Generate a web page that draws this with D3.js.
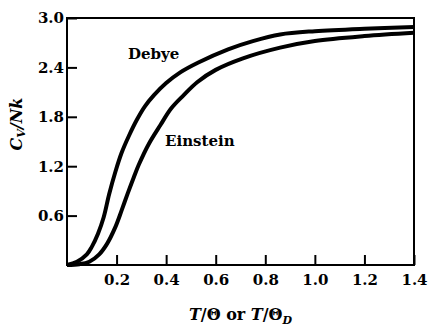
<!DOCTYPE html>
<html>
<head>
<meta charset="utf-8">
<script src="https://cdn.jsdelivr.net/npm/d3@7"></script>
<style>
  body { margin: 0; background: #fff; }
</style>
</head>
<body>
<div id="container"></div>
<script>
// values (T/theta, Cv/Nk)
const debyeT = [0, 0.04, 0.08, 0.10, 0.125, 0.148, 0.17, 0.195, 0.22, 0.25, 0.283, 0.315, 0.35, 0.40, 0.457, 0.53, 0.65, 0.75, 0.86, 1.00, 1.20, 1.40];
const debyeC = [0, 0.04, 0.13, 0.22, 0.38, 0.58, 0.86, 1.13, 1.36, 1.57, 1.77, 1.93, 2.06, 2.21, 2.34, 2.46, 2.62, 2.72, 2.80, 2.84, 2.87, 2.89];

const einsteinT = [0, 0.05, 0.09, 0.13, 0.162, 0.195, 0.22, 0.245, 0.27, 0.29, 0.33, 0.377, 0.42, 0.47, 0.525, 0.60, 0.71, 0.86, 1.00, 1.20, 1.40];
const einsteinC = [0, 0.01, 0.04, 0.13, 0.26, 0.46, 0.66, 0.87, 1.07, 1.22, 1.47, 1.70, 1.90, 2.06, 2.22, 2.37, 2.51, 2.64, 2.72, 2.78, 2.82];

const xTicks = [0.2, 0.4, 0.6, 0.8, 1.0, 1.2, 1.4];
const yTicks = [0.6, 1.2, 1.8, 2.4, 3.0];

const width = 431, height = 326;
const margin = { top: 18, right: 17, bottom: 61, left: 67 };
const serif = 'DejaVu Serif';

const svg = d3.select('#container').append('svg')
  .attr('width', width)
  .attr('height', height)
  .attr('font-family', serif)
  .style('font-family', serif);

const x = d3.scaleLinear().domain([0, 1.4]).range([margin.left, width - margin.right]);
const y = d3.scaleLinear().domain([0, 3.0]).range([height - margin.bottom, margin.top]);

function label(sel, size) {
  return sel.attr('font-family', serif).style('font-family', serif)
    .attr('font-weight', 'bold').style('font-weight', 'bold')
    .attr('font-size', size).style('font-size', size + 'px')
    .attr('fill', '#000');
}

// axes, ticks pointing inward
const xAxis = svg.append('g')
  .attr('transform', `translate(0,${y(0)})`)
  .call(d3.axisBottom(x).tickValues(xTicks).tickFormat(d3.format('.1f'))
    .tickSize(-10).tickSizeOuter(0).tickPadding(9));
const yAxis = svg.append('g')
  .attr('transform', `translate(${x(0)},0)`)
  .call(d3.axisLeft(y).tickValues(yTicks).tickFormat(d3.format('.1f'))
    .tickSize(-10).tickSizeOuter(0).tickPadding(3));

[xAxis, yAxis].forEach(g => {
  g.attr('font-family', serif).attr('font-size', 15);
  g.select('.domain').remove();
  g.selectAll('line').attr('stroke', '#000').attr('stroke-width', 2);
  label(g.selectAll('text'), 15);
});

// frame
svg.append('rect')
  .attr('x', x(0)).attr('y', y(3.0))
  .attr('width', x(1.4) - x(0)).attr('height', y(0) - y(3.0))
  .attr('fill', 'none').attr('stroke', '#000').attr('stroke-width', 2);

// curves
const line = d3.line()
  .x(d => x(d[0]))
  .y(d => y(d[1]))
  .curve(d3.curveCatmullRom.alpha(0.5));

[[debyeT, debyeC], [einsteinT, einsteinC]].forEach(([ts, cs]) => {
  svg.append('path')
    .datum(d3.zip(ts, cs))
    .attr('d', line)
    .attr('fill', 'none')
    .attr('stroke', '#000')
    .attr('stroke-width', 4);
});

// curve labels
label(svg.append('text').attr('x', 128).attr('y', 59), 15).text('Debye');
label(svg.append('text').attr('x', 165).attr('y', 146), 15).text('Einstein');

// x axis title
const xt = label(svg.append('text')
  .attr('x', (x(0) + x(1.4)) / 2).attr('y', 320)
  .attr('text-anchor', 'middle'), 16);
xt.append('tspan').attr('font-style', 'italic').text('T');
xt.append('tspan').text('/Θ or ');
xt.append('tspan').attr('font-style', 'italic').text('T');
xt.append('tspan').text('/Θ');
xt.append('tspan').attr('font-style', 'italic').attr('font-size', 11).attr('dy', 4).text('D');

// y axis title
const yt = label(svg.append('text')
  .attr('transform', 'translate(22,124) rotate(-90)')
  .attr('text-anchor', 'middle'), 16).attr('font-style', 'italic');
yt.append('tspan').text('C');
yt.append('tspan').attr('font-size', 11).attr('dy', 3).text('V');
yt.append('tspan').attr('dy', -3).text('/Nk');
</script>
</body>
</html>
